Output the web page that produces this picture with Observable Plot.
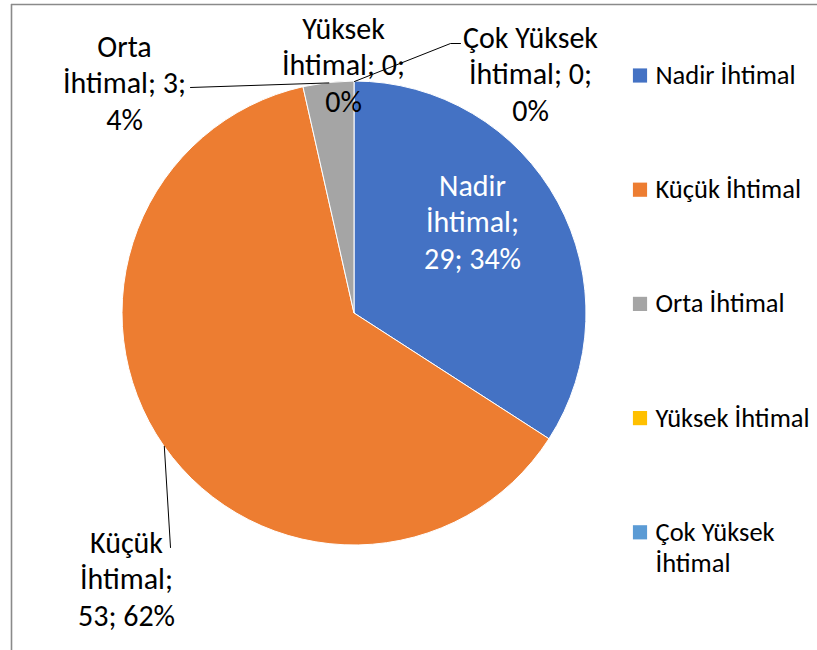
<!DOCTYPE html>
<html><head><meta charset="utf-8">
<script src="https://cdn.jsdelivr.net/npm/d3@7"></script>
<script src="https://cdn.jsdelivr.net/npm/@observablehq/plot@0.6"></script>
<style>body{margin:0;background:#fff;} #chart svg{display:block;}</style>
</head><body><div id="chart"></div>
<script>
// ---- data ----
const categories = ["Nadir İhtimal", "Küçük İhtimal", "Orta İhtimal", "Yüksek İhtimal", "Çok Yüksek İhtimal"];
const counts = [29, 53, 3, 0, 0];
const percents = [34, 62, 4, 0, 0];
const colors = ["#4472C4", "#ED7D31", "#A5A5A5", "#FFC000", "#5B9BD5"];

// ---- layout (not data) ----
const W = 817, H = 650;
const FONT = "Carlito, Calibri, Lato, 'Open Sans', sans-serif";
const pie = {cx: 354, cy: 313, r: 232};
// label placement relative to pie centre; breaks = tokens per line; leader end relative to label centre
const labelLayout = [
  {dx: 118, dy: -93, breaks: [1, 1, 2], fill: "white", leader: null},
  {dx: -228, dy: 264, breaks: [1, 1, 2], fill: "black", leader: [[44, -30]]},
  {dx: -230, dy: -232, breaks: [1, 2, 1], fill: "black", leader: [[66, 6]]},
  {dx: -11, dy: -250, breaks: [1, 2, 1], fill: "black", leader: null},
  {dx: 176, dy: -241, breaks: [2, 2, 1], fill: "black", leader: [[-80, -29], [-70, -29]]}
];

const slices = d3.pie().sort(null).value(d => d.count)(
  categories.map((c, i) => ({category: c, count: counts[i], pct: percents[i], color: colors[i]}))
);

const labels = slices.map((s, i) => {
  const L = labelLayout[i];
  const words = s.data.category.split(" ");
  words[words.length - 1] += ";";
  const tokens = [...words, s.data.count + ";", s.data.pct + "%"];
  let k = 0;
  const lines = L.breaks.map(n => { const t = tokens.slice(k, k + n).join(" "); k += n; return t; });
  return {text: lines.join("\n"), x: pie.cx + L.dx, y: pie.cy + L.dy, fill: L.fill};
});

const leaderPts = [];
slices.forEach((s, i) => {
  const L = labelLayout[i];
  if (!L.leader) return;
  const a = (s.startAngle + s.endAngle) / 2;
  leaderPts.push({k: i, x: pie.cx + pie.r * Math.sin(a), y: pie.cy - pie.r * Math.cos(a)});
  L.leader.forEach(([ex, ey]) => leaderPts.push({k: i, x: labels[i].x + ex, y: labels[i].y + ey}));
});

const legendRows = categories.map((c, i) => ({color: colors[i], y: 75 + i * 114.2}));
const legendLines = [];
categories.forEach((c, i) => {
  const lines = c === "Çok Yüksek İhtimal" ? ["Çok Yüksek", "İhtimal"] : [c];
  lines.forEach((t, j) => legendLines.push({text: t, y: legendRows[i].y + j * 31}));
});

function pieRender(index, scales) {
  const g = d3.create("svg:g");
  const cx = scales.x(pie.cx), cy = scales.y(pie.cy);
  const rpx = scales.x(pie.cx + pie.r) - scales.x(pie.cx);
  const arc = d3.arc().innerRadius(0).outerRadius(rpx);
  g.attr("transform", `translate(${cx},${cy})`);
  g.selectAll("path").data(slices.filter(s => s.endAngle > s.startAngle)).join("path")
    .attr("d", arc).attr("fill", d => d.data.color)
    .attr("stroke", "white").attr("stroke-width", 1);
  return g.node();
}

const chart = Plot.plot({
  width: W, height: H, margin: 0,
  x: {domain: [0, W], range: [0, W], axis: null},
  y: {domain: [0, H], range: [0, H], axis: null},
  style: {background: "white", fontFamily: FONT},
  marks: [
    Plot.ruleX([11], {y1: 4, y2: H, stroke: "#8a8a8a", strokeWidth: 1.6}),
    Plot.ruleY([4], {x1: 11, x2: W, stroke: "#8a8a8a", strokeWidth: 1.6}),
    pieRender,
    Plot.line(leaderPts, {x: "x", y: "y", z: "k", stroke: "black", strokeWidth: 1}),
    Plot.text(labels, {x: "x", y: "y", text: "text", fill: "fill", fontSize: 30, lineHeight: 1.22, textAnchor: "middle", lineAnchor: "middle"}),
    Plot.dot(legendRows, {x: 639.5, y: "y", fill: "color", symbol: "square", r: 8}),
    Plot.text(legendLines, {x: 655, y: "y", text: "text", textAnchor: "start", lineAnchor: "middle", fontSize: 26.5, fill: "black"})
  ]
});
document.getElementById("chart").append(chart);
</script>
</body></html>
